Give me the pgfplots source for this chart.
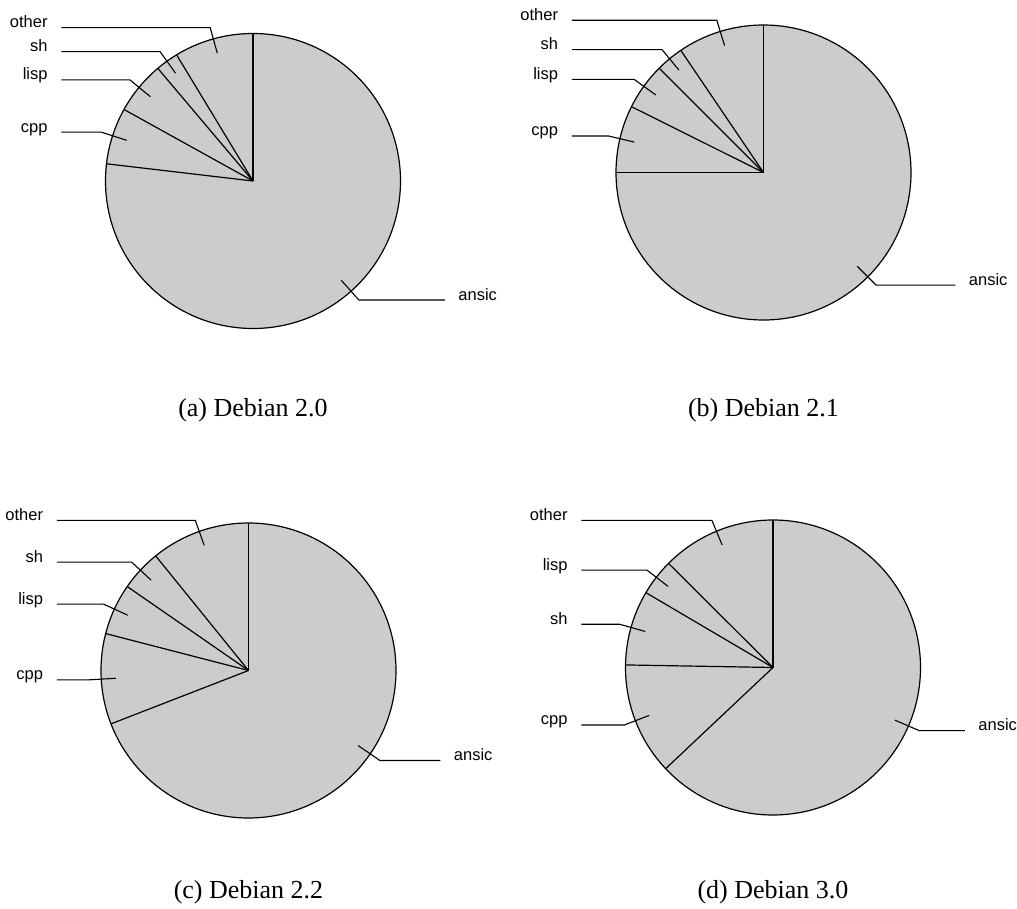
\documentclass[border=0pt]{standalone}
\usepackage{fontspec}
\setmainfont{Liberation Serif}
\newfontfamily\labelfont{Liberation Sans}
\usepackage{pgfplots}
\pgfplotsset{compat=1.18}

\definecolor{piegray}{HTML}{CCCCCC}

% one pie: axis units are the radius
\pgfplotsset{
  pie/.style={
    hide axis, clip=false,
    x=73.75bp, y=73.75bp,
    xmin=-1.5, xmax=1.5, ymin=-1.15, ymax=1.15,
    anchor=center,
  },
}
\tikzset{leader/.style={black, line width=0.55bp}}

% #1 start angle, #2 end angle, #3 name, #4 side (-1 left, 1 right), #5 anchor
\newcommand\slice[5]{%
  \addplot[black, line width=0.6bp, data cs=polar] coordinates {(0,0) (#2,1)};
  \draw[leader] ({0.9*cos((#1+#2)/2)},{0.9*sin((#1+#2)/2)})
    -- ({1.08*cos((#1+#2)/2)},{1.08*sin((#1+#2)/2)})
    -- ({#4*1.3},{1.08*sin((#1+#2)/2)});
  \node[anchor=#5, inner sep=0pt, font=\labelfont\fontsize{8.25bp}{10bp}\selectfont]
    at ({#4*1.39},{1.08*sin((#1+#2)/2)}) {#3};
}
\newcommand\disk{%
  \draw[fill=piegray, line width=0.6bp] (0,0) circle[radius=73.75bp];
  \addplot[black, line width=0.6bp, data cs=polar] coordinates {(0,0) (90,1)};
}

\begin{document}
\begin{tikzpicture}
\path[use as bounding box] (0,0) rectangle (508.5bp,-454.5bp);

% (a) Debian 2.0
\begin{axis}[pie, at={(126.5bp,-90.5bp)}]
\disk
\slice{90}{121.2}{other}{-1}{base east}
\slice{121.2}{130.2}{sh}{-1}{base east}
\slice{130.2}{151.0}{lisp}{-1}{base east}
\slice{151.0}{173.3}{cpp}{-1}{base east}
\slice{173.3}{450}{ansic}{1}{base west}
\end{axis}

% (b) Debian 2.1
\begin{axis}[pie, at={(381.75bp,-86.25bp)}]
\disk
\slice{90}{124.1}{other}{-1}{base east}
\slice{124.1}{135.0}{sh}{-1}{base east}
\slice{135.0}{153.5}{lisp}{-1}{base east}
\slice{153.5}{180.0}{cpp}{-1}{base east}
\slice{180.0}{450}{ansic}{1}{base west}
\end{axis}

% (c) Debian 2.2
\begin{axis}[pie, at={(124.25bp,-335.25bp)}]
\disk
\slice{90}{129.0}{other}{-1}{base east}
\slice{129.0}{145.3}{sh}{-1}{base east}
\slice{145.3}{165.5}{lisp}{-1}{base east}
\slice{165.5}{201.2}{cpp}{-1}{base east}
\slice{201.2}{450}{ansic}{1}{base west}
\end{axis}

% (d) Debian 3.0
\begin{axis}[pie, at={(386.5bp,-333.75bp)}]
\disk
\slice{90}{135.1}{other}{-1}{base east}
\slice{135.1}{149.5}{lisp}{-1}{base east}
\slice{149.5}{179.0}{sh}{-1}{base east}
\slice{179.0}{223.3}{cpp}{-1}{base east}
\slice{223.3}{450}{ansic}{1}{base west}
\end{axis}

\begin{scope}[every node/.style={anchor=base, font=\fontsize{13bp}{15bp}\selectfont}]
\node at (126.5bp,-208bp) {(a) Debian 2.0};
\node at (381.75bp,-208bp) {(b) Debian 2.1};
\node at (124.25bp,-449bp) {(c) Debian 2.2};
\node at (386.5bp,-449bp) {(d) Debian 3.0};
\end{scope}
\end{tikzpicture}
\end{document}
